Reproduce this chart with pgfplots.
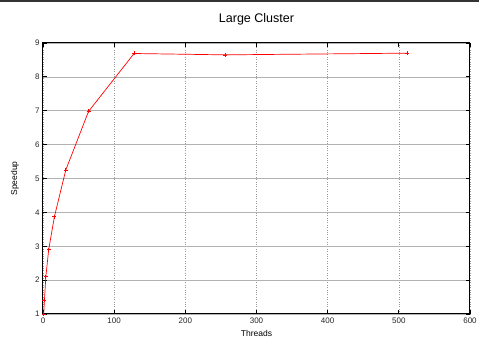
\documentclass[border=0pt]{standalone}
\usepackage{fontspec}
\setmainfont{Liberation Sans}
\usepackage{pgfplots}
\pgfplotsset{compat=1.18}
\begin{document}
\begin{tikzpicture}
\begin{axis}[
  at={(0,0)}, anchor=south west,
  scale only axis, width=427pt, height=271pt,
  xmin=0, xmax=600, ymin=1, ymax=9,
  xtick={0,100,...,600}, ytick={1,2,...,9},
  /pgf/number format/assume math mode=true,
  tick label style={font=\fontsize{8}{9}\selectfont, text=black!85},
  tick align=inside, tick pos=both,
  major tick length=4pt,
  tick style={black, line width=0.8pt},
  axis line style={line width=1pt},
  grid=major,
  x grid style={gray!80, dotted, line width=0.6pt},
  y grid style={gray!60, line width=0.6pt},
  title={Large Cluster},
  title style={font=\fontsize{12.5}{14}\selectfont, at={(axis description cs:0.5,1)}, anchor=base, yshift=14pt},
  xlabel={Threads},
  xlabel style={font=\fontsize{8.5}{10}\selectfont, at={(axis description cs:0.5,0)}, anchor=base, yshift=-23pt},
  ylabel={Speedup},
  ylabel style={font=\fontsize{8.5}{10}\selectfont, at={(axis description cs:-0.0656,0.5)}, anchor=center},
  clip=false,
]
\addplot[red, line width=0.7pt, mark=+, mark size=2pt] coordinates {
  (1,1.0) (2,1.4) (4,2.1) (8,2.9) (16,3.87) (32,5.25) (64,6.98) (128,8.69) (256,8.65) (512,8.70)
};
\end{axis}
\draw[line width=1.5pt, black!80] (-43pt,313pt) -- (436pt,313pt);
\pgfresetboundingbox
\path[use as bounding box] (-43pt,-25pt) rectangle (436pt,314pt);
\end{tikzpicture}
\end{document}
